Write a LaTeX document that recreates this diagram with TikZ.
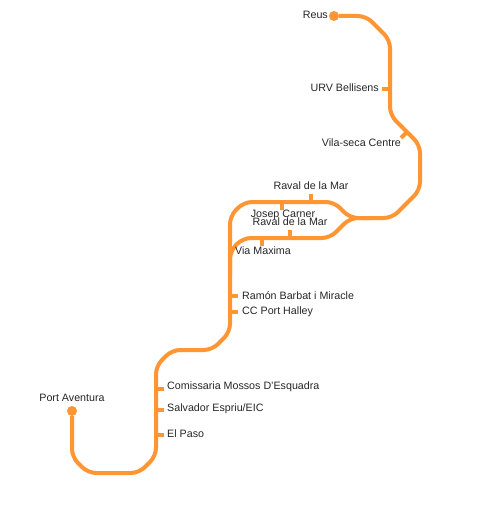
\documentclass[tikz,border=0pt]{standalone}
\usepackage{fontspec}
\setmainfont{Liberation Sans}
\definecolor{lineorange}{HTML}{FF9633}
\begin{document}
\begin{tikzpicture}[
  x=1pt, y=-1pt,
  track/.style={draw=lineorange, line width=4pt, rounded corners=8pt},
  tick/.style={draw=lineorange, line width=4pt},
  terminal/.style={circle, fill=lineorange, inner sep=0pt, minimum size=10pt},
  lbl/.style={font=\fontsize{10.7pt}{12pt}\selectfont, text=black!85, inner sep=0pt},
]

\useasboundingbox (0, 0) rectangle (480, 505);

% line ends
\node[terminal] (reus)     at (334, 16)  {};
\node[terminal] (aventura) at (72, 411)  {};

% bends, north to south
\coordinate (n1) at (366, 16);
\coordinate (n2) at (390, 40);
\coordinate (n3) at (390, 115);
\coordinate (n4) at (420, 145);
\coordinate (n5) at (420, 190);
\coordinate (n6) at (392, 218);
\coordinate (fork) at (372, 218);
\coordinate (fork2) at (350, 218);

\coordinate (u1) at (334, 202);
\coordinate (u2) at (244, 202);
\coordinate (u3) at (230, 216);
\coordinate (l1) at (330, 238);
\coordinate (l2) at (243, 238);
\coordinate (l3) at (230, 251);
\coordinate (merge) at (230, 275);

\coordinate (s1) at (230, 332);
\coordinate (s2) at (212, 350);
\coordinate (s3) at (172, 350);
\coordinate (s4) at (156, 366);
\coordinate (s5) at (156, 456);
\coordinate (s6) at (139, 473);
\coordinate (s7) at (88, 473);
\coordinate (s8) at (72, 457);

\draw[track] (reus) -- (n1) -- (n2) -- (n3) -- (n4) -- (n5) -- (n6) -- (fork);
\draw[track] (fork) -- (fork2) -- (u1) -- (u2) -- (u3) -- (merge);
\draw[track] (fork) -- (fork2) -- (l1) -- (l2) -- (l3) -- (merge);
\draw[track] (merge) -- (s1) -- (s2) -- (s3) -- (s4) -- (s5) -- (s6) -- (s7) -- (s8) -- (aventura);

% station ticks
\coordinate (urvA) at (390, 89);   \coordinate (urvB) at (382, 89);
\coordinate (vilaA) at (407, 132); \coordinate (vilaB) at (401, 138);
\coordinate (ravalA) at (311, 202); \coordinate (ravalB) at (311, 194);
\coordinate (josepA) at (282, 202); \coordinate (josepB) at (282, 210);
\coordinate (raval2A) at (290, 238); \coordinate (raval2B) at (290, 230);
\coordinate (viaA) at (262, 238);  \coordinate (viaB) at (262, 246);
\coordinate (ramonA) at (230, 296); \coordinate (ramonB) at (238, 296);
\coordinate (halleyA) at (230, 312); \coordinate (halleyB) at (238, 312);
\coordinate (mossosA) at (156, 389); \coordinate (mossosB) at (164, 389);
\coordinate (espriuA) at (156, 410); \coordinate (espriuB) at (164, 410);
\coordinate (pasoA) at (156, 435); \coordinate (pasoB) at (164, 435);

\foreach \stn in {urv, vila, raval, josep, raval2, via, ramon, halley, mossos, espriu, paso}
  \draw[tick] (\stn A) -- (\stn B);

% labels
\node[lbl, anchor=east] (reuslbl) at (328, 15) {Reus};
\node[lbl, anchor=east] (urvlbl)  at (379, 88) {URV Bellisens};
\node[lbl, anchor=east] (vilalbl) at (401, 143) {Vila-seca Centre};
\node[lbl] (ravallbl)  at (311, 186) {Raval de la Mar};
\node[lbl] (joseplbl)  at (283, 215) {Josep Carner};
\node[lbl] (raval2lbl) at (290, 222) {Raval de la Mar};
\node[lbl] (vialbl)    at (263, 251) {Via Maxima};
\node[lbl, anchor=west] (ramonlbl)  at (242, 296) {Ramón Barbat i Miracle};
\node[lbl, anchor=west] (halleylbl) at (242, 312) {CC Port Halley};
\node[lbl, anchor=west] (mossoslbl) at (167, 386.5) {Comissaria Mossos D'Esquadra};
\node[lbl, anchor=west] (espriulbl) at (167, 409) {Salvador Espriu/EIC};
\node[lbl, anchor=west] (pasolbl)   at (167, 433.5) {El Paso};
\node[lbl] (aventuralbl) at (72, 398) {Port Aventura};

\end{tikzpicture}
\end{document}
